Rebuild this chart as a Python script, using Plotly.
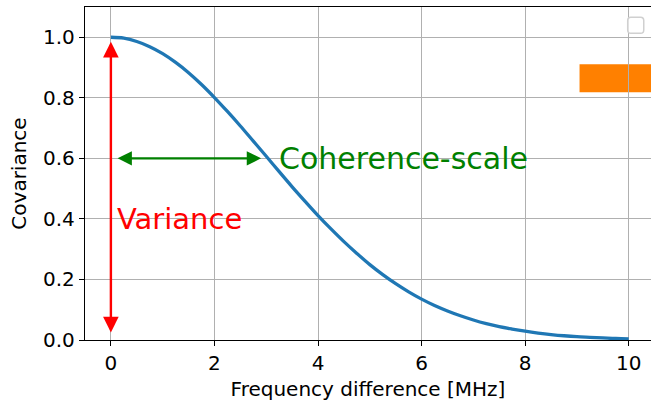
import plotly.graph_objects as go

# Covariance of the channel versus frequency separation
freq_diff = [0.0, 0.25, 0.5, 0.75, 1.0, 1.25, 1.5, 1.75, 2.0, 2.25, 2.5, 2.75,
             3.0, 3.25, 3.5, 3.75, 4.0, 4.25, 4.5, 4.75, 5.0, 5.25, 5.5, 5.75,
             6.0, 6.25, 6.5, 6.75, 7.0, 7.25, 7.5, 7.75, 8.0, 8.25, 8.5, 8.75,
             9.0, 9.25, 9.5, 9.75, 10.0]
covariance = [1.000, 0.997, 0.986, 0.969, 0.946, 0.917, 0.883, 0.844, 0.801, 0.755, 0.707, 0.657,
              0.607, 0.556, 0.506, 0.458, 0.411, 0.367, 0.325, 0.286, 0.249, 0.216, 0.186, 0.159,
              0.135, 0.114, 0.096, 0.080, 0.066, 0.054, 0.044, 0.036, 0.029, 0.023, 0.018, 0.014,
              0.011, 0.009, 0.007, 0.005, 0.004]

x_ticks = [0, 2, 4, 6, 8, 10]
y_ticks = [0.0, 0.2, 0.4, 0.6, 0.8, 1.0]

variance_span = (0.02, 0.985)      # red arrow along the covariance axis
coherence_span = (0.1, 2.9)        # green arrow across to the coherence scale
coherence_level = 0.6

FONT = "DejaVu Sans"

fig = go.Figure()
fig.add_trace(go.Scatter(
    x=freq_diff, y=covariance, mode="lines",
    line=dict(color="#1f77b4", width=3.3, shape="spline", smoothing=1.0),
    showlegend=False, hoverinfo="skip",
))

annotations = [
    # variance: double-headed vertical arrow at zero separation
    dict(x=0, y=variance_span[1], ax=0, ay=variance_span[0],
         xref="x", yref="y", axref="x", ayref="y", text="",
         showarrow=True, arrowhead=2, startarrowhead=2, arrowside="end+start",
         arrowsize=1.3, startarrowsize=1.3, arrowwidth=2.4, arrowcolor="red"),
    # coherence scale: double-headed horizontal arrow
    dict(x=coherence_span[1], y=coherence_level, ax=coherence_span[0], ay=coherence_level,
         xref="x", yref="y", axref="x", ayref="y", text="",
         showarrow=True, arrowhead=2, startarrowhead=2, arrowside="end+start",
         arrowsize=1.3, startarrowsize=1.3, arrowwidth=2.2, arrowcolor="green"),
    dict(x=3.2, y=coherence_level, xref="x", yref="y", text="Coherence-scale",
         showarrow=False, xanchor="left", yanchor="middle",
         font=dict(family=FONT, size=30, color="green")),
    dict(x=0.08, y=0.4, xref="x", yref="y", text="Variance",
         showarrow=False, xanchor="left", yanchor="middle",
         font=dict(family=FONT, size=29, color="red")),
]

# empty legend frame, drawn as a small rounded square
lx0, lx1, ly0, ly1 = 9.98, 10.29, 1.013, 1.066
rx, ry = 0.06, 0.011
legend_path = (
    f"M {lx0+rx},{ly0} L {lx1-rx},{ly0} Q {lx1},{ly0} {lx1},{ly0+ry} "
    f"L {lx1},{ly1-ry} Q {lx1},{ly1} {lx1-rx},{ly1} "
    f"L {lx0+rx},{ly1} Q {lx0},{ly1} {lx0},{ly1-ry} "
    f"L {lx0},{ly0+ry} Q {lx0},{ly0} {lx0+rx},{ly0} Z"
)

shapes = [
    dict(type="rect", xref="x", yref="y", x0=9.05, x1=10.6, y0=0.818, y1=0.911,
         fillcolor="#ff8000", line=dict(width=0), layer="below"),
    dict(type="path", xref="x", yref="y", path=legend_path,
         fillcolor="rgba(255,255,255,0.8)", line=dict(color="#d0d0d0", width=1.5)),
]

fig.update_layout(
    width=651, height=404,
    margin=dict(l=85, r=0, t=7, b=64, autoexpand=False),
    paper_bgcolor="white", plot_bgcolor="white",
    font=dict(family=FONT, size=20, color="black"),
    annotations=annotations, shapes=shapes,
    showlegend=False,
)
fig.update_xaxes(
    range=[-0.5, 10.43], tickvals=x_ticks, ticktext=[str(v) for v in x_ticks],
    showgrid=True, gridcolor="#b0b0b0", gridwidth=1,
    showline=True, mirror=True, linecolor="black", linewidth=1.3,
    ticks="outside", ticklen=5, tickwidth=1.3, tickcolor="black",
    zeroline=False, automargin=False,
    title=dict(text="Frequency difference [MHz]", font=dict(family=FONT, size=20), standoff=7),
)
fig.update_yaxes(
    range=[0, 1.1], tickvals=y_ticks, ticktext=[f"{v:.1f}" for v in y_ticks],
    showgrid=True, gridcolor="#b0b0b0", gridwidth=1,
    showline=True, mirror=False, linecolor="black", linewidth=1.3,
    ticks="outside", ticklen=5, tickwidth=1.3, tickcolor="black",
    zeroline=False, automargin=False,
    title=dict(text="Covariance", font=dict(family=FONT, size=20), standoff=11),
)

fig.write_html("out.html")
